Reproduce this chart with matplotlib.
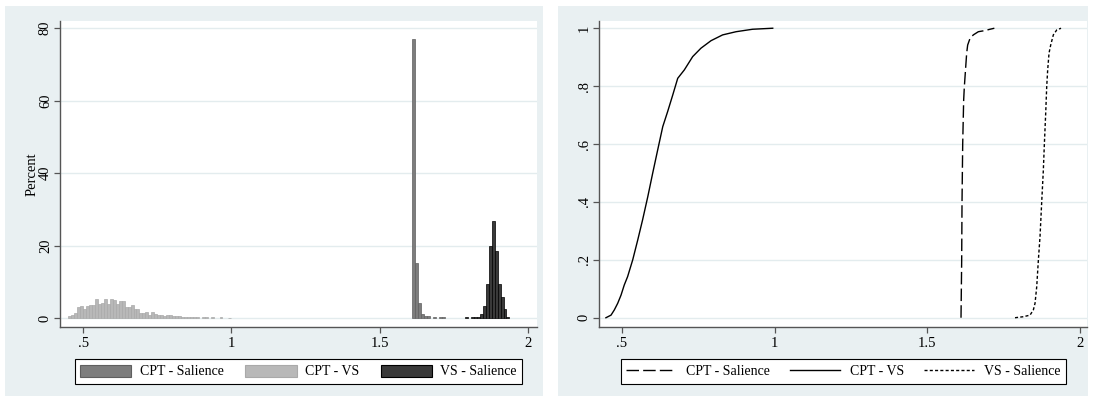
import numpy as np
import matplotlib
matplotlib.use("Agg")
import matplotlib.pyplot as plt
from matplotlib.patches import Patch, Rectangle
from matplotlib.lines import Line2D

plt.rcParams['font.family'] = ['Liberation Serif', 'DejaVu Serif']
plt.rcParams['font.size'] = 10

# ---- histogram data (percent per bin, bin width .01) ----
bin_width = 0.01

cpt_sal_start = 1.61
cpt_sal_pct = [77.0, 15.3, 4.1, 1.1, 0.6, 0.5, 0.0, 0.15, 0.0, 0.15, 0.25]

cpt_vs_start = 0.45
cpt_vs_pct = [0.46, 0.83, 1.3, 2.9, 3.3, 2.4, 3.3, 3.5, 3.7, 5.3,
              3.9, 4.1, 5.3, 3.9, 5.2, 5.0, 3.9, 4.8, 4.6, 2.9,
              3.1, 3.7, 2.5, 2.4, 1.4, 1.3, 1.7, 0.9, 1.6, 1.1,
              0.9, 0.8, 0.6, 0.8, 0.7, 0.45, 0.45, 0.4, 0.35, 0.3,
              0.3, 0.25, 0.2, 0.15, 0.0, 0.15, 0.15, 0.0, 0.15, 0.0,
              0.0, 0.15, 0.0, 0.0, 0.1]

vs_sal_start = 1.7875
vs_sal_pct = [0.2, 0.0, 0.2, 0.2, 0.3, 1.1, 3.3, 9.4, 19.8, 26.9,
              18.6, 9.4, 5.7, 2.5, 0.3]

# ---- cumulative distributions ----
cpt_vs_x = [0.448, 0.4647, 0.4755, 0.4866, 0.4974, 0.508, 0.519, 0.5357, 0.552,
            0.568, 0.585, 0.601, 0.6175, 0.634, 0.650, 0.6666, 0.683, 0.7046,
            0.732, 0.759, 0.792, 0.830, 0.874, 0.928, 0.994]
cpt_vs_cdf = [0.0, 0.009, 0.027, 0.05, 0.078, 0.113, 0.142, 0.2, 0.268,
              0.338, 0.418, 0.499, 0.58, 0.66, 0.712, 0.769, 0.827, 0.856,
              0.902, 0.931, 0.957, 0.977, 0.988, 0.9965, 1.0]

cpt_sal_x = [1.6103, 1.6125, 1.6136, 1.6158, 1.6190, 1.6212, 1.6288, 1.6321,
             1.6398, 1.6506, 1.6670, 1.6889, 1.7052, 1.7194]
cpt_sal_cdf = [0.0, 0.199, 0.399, 0.599, 0.752, 0.798, 0.9136, 0.942,
               0.965, 0.977, 0.988, 0.992, 0.9965, 1.0]

vs_sal_x = [1.7871, 1.8143, 1.8362, 1.8471, 1.8526, 1.8581, 1.8635, 1.8689,
            1.8744, 1.8798, 1.8831, 1.8875, 1.8908, 1.8940, 1.8984, 1.9039,
            1.9125, 1.9236, 1.9377]
vs_sal_cdf = [0.0, 0.0035, 0.009, 0.027, 0.05, 0.107, 0.199, 0.28, 0.399,
              0.51, 0.599, 0.706, 0.798, 0.856, 0.914, 0.942, 0.977, 0.994, 1.0]

labels = ['CPT - Salience', 'CPT - VS', 'VS - Salience']
x_ticks = [0.5, 1, 1.5, 2]
x_ticklabels = ['.5', '1', '1.5', '2']
pct_ticks = [0, 20, 40, 60, 80]
cdf_ticks = [0, 0.2, 0.4, 0.6, 0.8, 1]
cdf_ticklabels = ['0', '.2', '.4', '.6', '.8', '1']

W, H = 1094, 398
bg = '#e9f0f2'
grid_c = '#e3ecee'
axis_c = '#555555'

fig = plt.figure(figsize=(W / 100, H / 100), dpi=100)
fig.patch.set_facecolor('white')

# panel backgrounds (graph region), kept below the axes
for x0, x1 in [(5, 543), (558, 1088)]:
    fig.patches.append(Rectangle((x0 / W, 2 / H), (x1 - x0) / W, 390 / H,
                                 transform=fig.transFigure, facecolor=bg,
                                 edgecolor='none', zorder=-5))

axL = fig.add_axes([59.6 / W, (H - 327) / H, (536.6 - 59.6) / W, 306 / H])
axR = fig.add_axes([598.5 / W, (H - 327) / H, (1087 - 598.5) / W, 306 / H])


def style_axis(ax):
    ax.set_facecolor('white')
    for s in ['top', 'right']:
        ax.spines[s].set_visible(False)
    for s in ['left', 'bottom']:
        ax.spines[s].set_color(axis_c)
        ax.spines[s].set_linewidth(1.0)
    ax.tick_params(axis='both', direction='out', length=4, width=0.9,
                   color=axis_c, labelsize=10.5)
    ax.tick_params(axis='x', pad=3)
    ax.tick_params(axis='y', pad=1.5)
    ax.yaxis.grid(True, color=grid_c, linewidth=1.0)
    ax.set_axisbelow(True)
    ax.set_xticks(x_ticks)
    ax.set_xticklabels(x_ticklabels)
    for t in ax.get_yticklabels():
        t.set_rotation(90)
        t.set_va('center')


# ---- left: histograms ----
hist_series = [
    (cpt_sal_start, cpt_sal_pct, '#7d7d7d', '#5f5f5f'),
    (cpt_vs_start, cpt_vs_pct, '#b8b8b8', '#a9a9a9'),
    (vs_sal_start, vs_sal_pct, '#3a3a3a', '#000000'),
]
handles = []
for (start, pct, fc, ec), lab in zip(hist_series, labels):
    pct = np.asarray(pct)
    lefts = start + bin_width * np.arange(len(pct))
    keep = pct > 0
    axL.bar(lefts[keep], pct[keep], width=bin_width, align='edge',
            facecolor=fc, edgecolor=ec, linewidth=0.5, zorder=2)
    handles.append(Patch(facecolor=fc, edgecolor=ec, linewidth=0.8, label=lab))

axL.set_xlim(0.4208, 2.029)
axL.set_ylim(-2.5, 82)
axL.set_yticks(pct_ticks)
style_axis(axL)
axL.set_ylabel('Percent', fontsize=10.5, labelpad=0)

legL = fig.legend(handles=handles, loc='center', bbox_to_anchor=(298.5 / W, (H - 371.5) / H),
                  ncol=3, frameon=True, fancybox=False, edgecolor='black',
                  framealpha=1, handlelength=3.7, handleheight=0.95,
                  handletextpad=0.6, columnspacing=1.55, borderpad=0.4,
                  fontsize=10)
legL.get_frame().set_linewidth(0.8)

# ---- right: cumulative distributions ----
axR.plot(cpt_sal_x, cpt_sal_cdf, color='black', linewidth=1.0, dashes=(9, 3))
axR.plot(cpt_vs_x, cpt_vs_cdf, color='black', linewidth=1.0)
axR.plot(vs_sal_x, vs_sal_cdf, color='black', linewidth=1.0, dashes=(2.2, 1.6))

axR.set_xlim(0.4237, 2.0227)
axR.set_ylim(-0.032, 1.025)
axR.set_yticks(cdf_ticks)
axR.set_yticklabels(cdf_ticklabels)
style_axis(axR)

line_handles = [
    Line2D([], [], color='black', linewidth=1.0, dashes=(9, 3), label=labels[0]),
    Line2D([], [], color='black', linewidth=1.0, label=labels[1]),
    Line2D([], [], color='black', linewidth=1.0, dashes=(2.2, 1.6), label=labels[2]),
]
legR = fig.legend(handles=line_handles, loc='center', bbox_to_anchor=(843.1 / W, (H - 371.5) / H),
                  ncol=3, frameon=True, fancybox=False, edgecolor='black',
                  framealpha=1, handlelength=3.6, handletextpad=0.7,
                  columnspacing=1.45, borderpad=0.4, fontsize=10)
legR.get_frame().set_linewidth(0.8)

fig.savefig('out.png', dpi=100, facecolor='white')
